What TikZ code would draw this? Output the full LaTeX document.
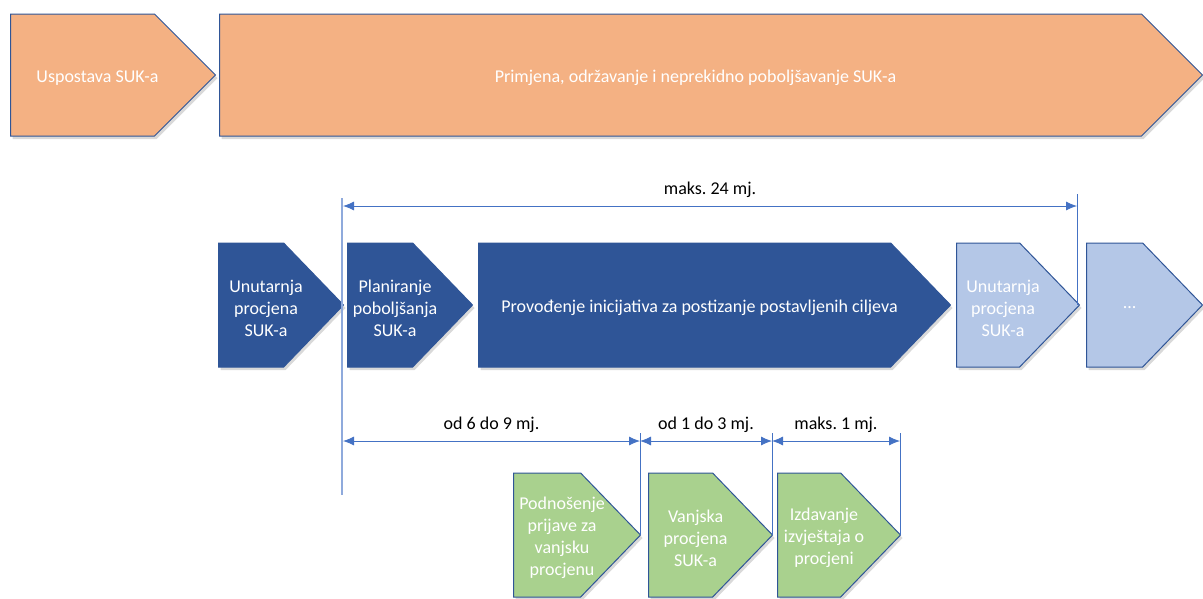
\documentclass[tikz,border=0pt]{standalone}
\usepackage{fontspec}
\setmainfont{Carlito}
\usetikzlibrary{shapes.symbols,shadows,arrows.meta,calc}
\tikzset{>={Latex[length=11pt,width=9pt]}}
\definecolor{narancasta}{HTML}{F4B183}
\definecolor{tamnoplava}{HTML}{2F5597}
\definecolor{svijetloplava}{HTML}{B4C7E7}
\definecolor{zelena}{HTML}{A9D18E}
\definecolor{plava}{HTML}{4472C4}
\definecolor{blijedoplava}{HTML}{8FAADC}

\begin{document}
\frenchspacing
\begin{tikzpicture}[x=1pt, y=-1pt, line join=miter,
                    korak/.style={signal, signal to=east, signal from=nowhere,
                                  draw=tamnoplava, line width=1pt, anchor=west, inner sep=0pt,
                                  drop shadow={shadow xshift=2pt, shadow yshift=-3pt, opacity=.3}},
                    tekst/.style={text=white, align=center, inner sep=0pt, xshift=15pt, yshift=-3pt,
                                  font=\fontsize{18}{22}\selectfont},
                    mjera/.style={plava, line width=.8pt},
                    oznaka/.style={font=\fontsize{18}{22}\selectfont, text=black, inner sep=1pt}]
  \useasboundingbox (0,0) rectangle (1203,598);

% gornji red
  \node[korak, fill=narancasta, minimum width=205pt, minimum height=122pt, signal pointer angle=90,
        label={[tekst]center:{Uspostava SUK-a}}] (usp) at (10,75) {};
  \node[korak, fill=narancasta, minimum width=983pt, minimum height=122pt, signal pointer angle=90,
        label={[tekst]center:{Primjena, održavanje i neprekidno poboljšavanje SUK-a}}] (prim) at (219,75) {};

% srednji red (ciklus)
  \node[korak, fill=tamnoplava, minimum width=125pt, minimum height=124pt, signal pointer angle=92,
        label={[tekst]center:{Unutarnja\\procjena\\SUK-a}}] (unut) at (218,305) {};
  \node[korak, fill=tamnoplava, minimum width=125pt, minimum height=124pt, signal pointer angle=92,
        label={[tekst]center:{Planiranje\\poboljšanja\\SUK-a}}] (plan) at (347,305) {};
  \node[korak, fill=tamnoplava, minimum width=472pt, minimum height=124pt, signal pointer angle=92,
        label={[tekst]center:{Provođenje inicijativa za postizanje postavljenih ciljeva}}] (prov) at (478,305) {};
  \node[korak, fill=svijetloplava, minimum width=123pt, minimum height=124pt, signal pointer angle=92,
        label={[tekst]center:{Unutarnja\\procjena\\SUK-a}}] (unut2) at (956,305) {};
  \node[korak, fill=svijetloplava, minimum width=116pt, minimum height=124pt, signal pointer angle=92,
        label={[tekst]center:{...}}] (dalje) at (1086,305) {};

% donji red (vanjska procjena)
  \node[korak, fill=zelena, minimum width=127pt, minimum height=124pt, signal pointer angle=92,
        label={[tekst]center:{Podnošenje\\prijave za\\vanjsku\\procjenu}}] (prij) at (513,535) {};
  \node[korak, fill=zelena, minimum width=124pt, minimum height=124pt, signal pointer angle=92,
        label={[tekst]center:{Vanjska\\procjena\\SUK-a}}] (vanj) at (648,535) {};
  \node[korak, fill=zelena, minimum width=123pt, minimum height=124pt, signal pointer angle=92,
        label={[tekst]center:{Izdavanje\\izvještaja o\\procjeni}}] (izv) at (777,535) {};

% vremenske crte
  \coordinate (t0) at (342,198);
  \coordinate (t0b) at (342,495);
  \coordinate (t24) at (1077,194);
  \coordinate (t9) at (640,433);
  \coordinate (t3) at (772,433);
  \coordinate (t1) at (900,433);
  \draw[blijedoplava, line width=1.5pt] (t0) -- (t0b);
  \draw[mjera] (t24) -- (t24 |- unut2.east);
  \draw[mjera] (t9) -- (t9 |- prij.east);
  \draw[mjera] (t3) -- (t3 |- vanj.east);
  \draw[mjera] (t1) -- (t1 |- izv.east);

  \coordinate (a0) at (343,206);
  \coordinate (a1) at (t24 |- a0);
  \coordinate (b0) at (343,441);
  \coordinate (b1) at (t9 |- b0);
  \coordinate (b2) at (t3 |- b0);
  \coordinate (b3) at (t1 |- b0);
  \draw[mjera,<->] (a0) -- (a1);
  \draw[mjera,<->] (b0) -- (b1);
  \draw[mjera,<->] (b1) -- (b2);
  \draw[mjera,<->] (b2) -- (b3);

% trajanja
  \node[oznaka, anchor=south] (n24) at ($(a0)!.5!(a1)+(0,-7)$) {maks. 24 mj.};
  \node[oznaka, anchor=south] (n69) at ($(b0)!.5!(b1)+(0,-7)$) {od 6 do 9 mj.};
  \node[oznaka, anchor=south] (n13) at ($(b1)!.5!(b2)+(0,-7)$) {od 1 do 3 mj.};
  \node[oznaka, anchor=south] (n1) at ($(b2)!.5!(b3)+(0,-7)$) {maks. 1 mj.};
\end{tikzpicture}
\end{document}
